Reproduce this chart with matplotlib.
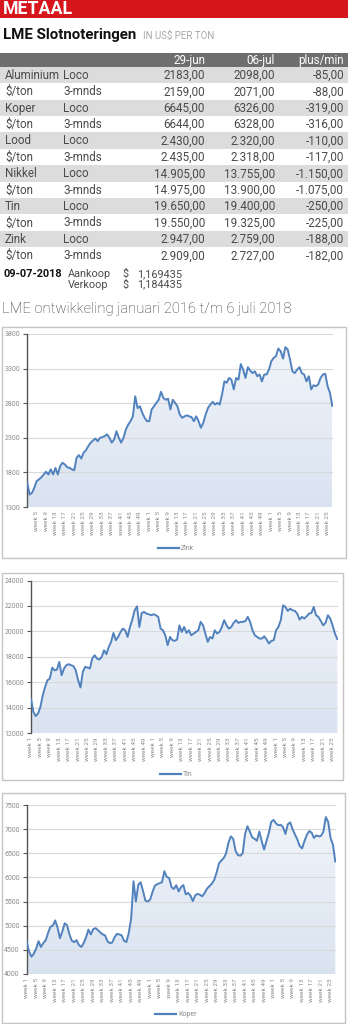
import numpy as np
import matplotlib
matplotlib.use("Agg")
import matplotlib.pyplot as plt
from matplotlib.patches import Rectangle, Polygon
from matplotlib.colors import LinearSegmentedColormap
from matplotlib.lines import Line2D

plt.rcParams['font.family'] = ['Roboto', 'DejaVu Sans']

# ---------------- data ----------------
metals = ["Aluminium", "$/ton", "Koper", "$/ton", "Lood", "$/ton",
          "Nikkel", "$/ton", "Tin", "$/ton", "Zink", "$/ton"]
terms = ["Loco", "3-mnds"] * 6
col_heads = ["29-jun", "06-jul", "plus/min"]
jun29 = ["2183,00", "2159,00", "6645,00", "6644,00", "2.430,00", "2.435,00",
         "14.905,00", "14.975,00", "19.650,00", "19.550,00", "2.947,00", "2.909,00"]
jul06 = ["2098,00", "2071,00", "6326,00", "6328,00", "2.320,00", "2.318,00",
         "13.755,00", "13.900,00", "19.400,00", "19.325,00", "2.759,00", "2.727,00"]
change = ["-85,00", "-88,00", "-319,00", "-316,00", "-110,00", "-117,00",
          "-1.150,00", "-1.075,00", "-250,00", "-225,00", "-188,00", "-182,00"]

zink = [1650,1480,1505,1580,1675,1700,1730,1770,1810,1770,
        1845,1770,1865,1770,1890,1940,1915,1875,1865,1845,
        1830,2010,2050,2000,2085,2120,2180,2230,2260,2290,
        2250,2300,2310,2325,2350,2300,2230,2275,2395,2300,
        2230,2300,2420,2490,2540,2610,2900,2730,2755,2660,
        2590,2540,2540,2710,2755,2805,2850,2965,2875,2850,
        2865,2710,2850,2805,2755,2635,2590,2610,2625,2610,
        2600,2540,2610,2540,2445,2515,2635,2730,2780,2820,
        2780,2805,2780,2925,3115,3095,3165,3140,3000,3165,
        3140,3365,3285,3165,3320,3270,3235,3260,3190,3215,
        3115,3215,3215,3285,3405,3455,3480,3590,3550,3445,
        3610,3575,3430,3260,3235,3285,3320,3235,3215,3115,
        3190,3000,3060,3045,3070,3165,3215,3225,3045,2950,2760]

tin = [14700,13690,13350,13560,14080,15000,15650,16170,16300,17160,
       16950,17000,17600,16560,17090,17350,17430,17350,17270,16950,
       16170,15600,16820,17220,17160,17090,17870,18130,17870,17790,
       18000,18520,18210,18780,19180,19880,19310,19570,19960,20220,
       20090,19570,20350,20930,21660,21970,20350,21450,21530,21400,
       21350,21270,21350,21270,21140,20220,20090,19700,18920,19570,
       19310,19260,19360,20480,19960,20350,19880,20090,19700,19830,
       19960,20090,20750,20480,19830,19180,19570,19440,20090,19830,
       19960,20350,20880,20480,20220,20350,20670,20880,20670,20750,
       20750,20820,21140,20750,20090,19700,19570,19440,19440,
       19620,19360,19050,19260,19310,20090,20350,20880,22050,21920,
       21610,21790,21660,21610,21400,20930,21140,21010,21190,21400,
       21450,21920,21270,21140,20820,20480,20670,21270,21010,20480,
       19830,19400]

koper = [4670,4460,4360,4420,4530,4680,4560,4640,4700,4850,
         4980,5000,5110,4960,4740,4880,5050,5010,4820,4690,
         4660,4700,4600,4560,4640,4760,4920,4820,4930,4950,
         4910,4860,4820,4800,4680,4640,4650,4760,4830,4820,
         4800,4690,4660,4850,5150,5920,5500,5850,5900,5720,
         5520,5500,5540,5700,5830,5860,5880,5900,6130,6010,
         5990,5800,5760,5840,5710,5800,5840,5650,5680,5620,
         5510,5630,5660,5640,5610,5680,5770,5820,5870,5950,
         6100,6290,6350,6400,6500,6720,6850,6800,6550,6460,
         6450,6500,6900,7060,6950,6830,6800,6760,6950,6750,
         6580,6750,6920,7150,7190,7120,7080,7090,7040,6900,
         7100,7140,7000,6890,6790,6650,6600,6750,6880,6960,
         6930,6820,6870,6850,6860,6950,7250,7150,6820,6680,6330]

week_labels = (["week %d" % w for w in range(1, 53, 4)] * 2
               + ["week %d" % w for w in range(1, 26, 4)])

# ---------------- figure ----------------
W, H = 348, 1024
fig = plt.figure(figsize=(W / 100, H / 100), dpi=100)
fig.patch.set_facecolor("white")

ov = fig.add_axes([0, 0, 1, 1])
ov.set_xlim(0, W)
ov.set_ylim(H, 0)
ov.axis("off")

TXT = "#4a4a4a"
# header
ov.add_patch(Rectangle((0, 0), W, 17.8, color="#d7151c", lw=0))
ov.text(3, 9.3, "METAAL", color="white", fontsize=12.8, fontweight="bold", va="center", ha="left")
ov.text(3, 35, "LME Slotnoteringen", color="#111111", fontsize=10.8, fontweight="bold", va="center", ha="left")
ov.text(143, 36, "IN US$ PER TON", color="#a8a8a8", fontsize=7, va="center", ha="left")

# table
top = 52.5
hh = 14.2
ov.add_patch(Rectangle((0, top), W, hh, color="#6e6e6e", lw=0))
colx = [205, 275, 344]
for cx, t in zip(colx, col_heads):
    ov.text(cx, top + hh / 2 + 0.5, t, color="white", fontsize=8.4, ha="right", va="center")
rh = 16.4
r0 = top + hh
for i in range(len(metals)):
    y0 = r0 + i * rh
    fc = "#dcdcdc" if i % 2 == 0 else "#ffffff"
    ov.add_patch(Rectangle((0, y0), W, rh, color=fc, lw=0))
    yc = y0 + rh / 2 + 0.5
    ov.text(5, yc, metals[i], color=TXT, fontsize=8.4, ha="left", va="center")
    ov.text(63, yc, terms[i], color=TXT, fontsize=8.4, ha="left", va="center")
    for cx, col in zip(colx, (jun29, jul06, change)):
        ov.text(cx, yc, col[i], color=TXT, fontsize=8.4, ha="right", va="center")

ov.text(3, 274, "09-07-2018", color="#111111", fontsize=7.8, fontweight="bold", ha="left", va="center")
for yy, lab, val in [(274, "Aankoop", "1,169435"), (284.5, "Verkoop", "1,184435")]:
    ov.text(68, yy, lab, color=TXT, fontsize=7.8, ha="left", va="center")
    ov.text(122, yy, "$", color=TXT, fontsize=7.8, ha="left", va="center")
    ov.text(137, yy, val, color=TXT, fontsize=7.8, ha="left", va="center")
ov.text(2, 309, "LME ontwikkeling januari 2016 t/m 6 juli 2018", color="#333333",
        fontsize=10.6, fontweight="light", ha="left", va="center")

# chart boxes
for (bx0, by0, bx1, by1) in [(2, 326.5, 346, 557.5), (2, 572.5, 343, 780), (2, 792.5, 345, 1022.5)]:
    ov.add_patch(Rectangle((bx0, by0), bx1 - bx0, by1 - by0, fill=False, ec="#c4c4c4", lw=1.0))

LINE = "#5282be"
cmap = LinearSegmentedColormap.from_list("g", ["#d9e3f0", "#f3f6fb"])


def chart(series, name, left, right, ytop, ybot, ylim, yticks, skip_first, leg_y):
    ax = fig.add_axes([left / W, 1 - ybot / H, (right - left) / W, (ybot - ytop) / H])
    x = np.arange(len(series))
    y = np.array(series, dtype=float)
    ymin, ymax = ylim
    xmax = len(series) - 1
    verts = np.column_stack([np.r_[x, x[-1], x[0]], np.r_[y, ymin, ymin]])
    poly = Polygon(verts, closed=True, facecolor="none", edgecolor="none")
    ax.add_patch(poly)
    grad = np.linspace(0, 1, 256).reshape(-1, 1)
    im = ax.imshow(grad, extent=[0, xmax, ymin, ymax], origin="lower", aspect="auto",
                   cmap=cmap, zorder=1)
    im.set_clip_path(poly)
    for t in yticks:
        ax.axhline(t, color="#d9d9d9", lw=0.8, zorder=2)
    ax.plot(x, y, color=LINE, lw=1.4, zorder=3, solid_joinstyle="round")
    ax.set_xlim(0, xmax + 0.3)
    ax.set_ylim(ymin, ymax)
    ax.set_yticks(yticks)
    ax.set_yticklabels([str(t) for t in yticks])
    ticks = list(range(0, 4 * len(week_labels), 4))
    labels = list(week_labels)
    if skip_first:
        ticks, labels = ticks[1:], labels[1:]
    ax.set_xticks(ticks)
    ax.set_xticklabels(labels, rotation=90, fontsize=4.6, color="#8c8c8c")
    ax.tick_params(axis="x", length=0, pad=3)
    ax.tick_params(axis="y", length=3, width=0.8, color="#555555", labelsize=5, labelcolor="#8c8c8c", pad=2)
    for s in ("top", "right", "bottom"):
        ax.spines[s].set_visible(False)
    ax.spines["left"].set_color("#555555")
    ax.spines["left"].set_linewidth(1.0)
    ax.set_facecolor("white")
    h = Line2D([], [], color=LINE, lw=1.6)
    ax.legend([h], [name], loc="center", bbox_to_anchor=(176 / W, 1 - leg_y / H),
              bbox_transform=fig.transFigure, frameon=False, fontsize=5,
              handlelength=3.0, handletextpad=0.3, labelcolor="#8c8c8c")
    return ax


chart(zink, "Zink", 27.3, 333, 334, 507, (1300, 3800), [1300, 1800, 2300, 2800, 3300, 3800], True, 549)
chart(tin, "Tin", 31, 338, 580.5, 733.3, (12000, 24000), [12000, 14000, 16000, 18000, 20000, 22000, 24000], False, 775)
chart(koper, "Koper", 26.7, 336, 805, 974, (4000, 7500), [4000, 4500, 5000, 5500, 6000, 6500, 7000, 7500], False, 1015)

fig.savefig("out.png", dpi=100, facecolor="white")
